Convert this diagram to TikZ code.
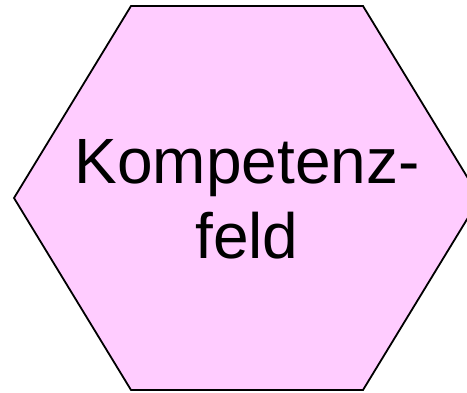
\documentclass[tikz,border=0pt]{standalone}
\usepackage{fontspec}
\setmainfont{Liberation Sans}
\definecolor{hexpink}{HTML}{FFCCFF}
\begin{document}
\begin{tikzpicture}[x=1pt,y=1pt,
  hexshape/.style={draw=black,fill=hexpink,line width=1.8pt,line join=miter},
  hexlabel/.style={font=\fontsize{64}{75}\selectfont,align=center,inner sep=0pt}]
\useasboundingbox (0,0) rectangle (467,392);
\draw[hexshape] (131,386) -- (363,386) -- (480,194) -- (363,2) -- (131,2) -- (14,194) -- cycle;
\node[hexlabel] (label) at (247,192.4) {Kompetenz-\\feld};
\end{tikzpicture}
\end{document}
